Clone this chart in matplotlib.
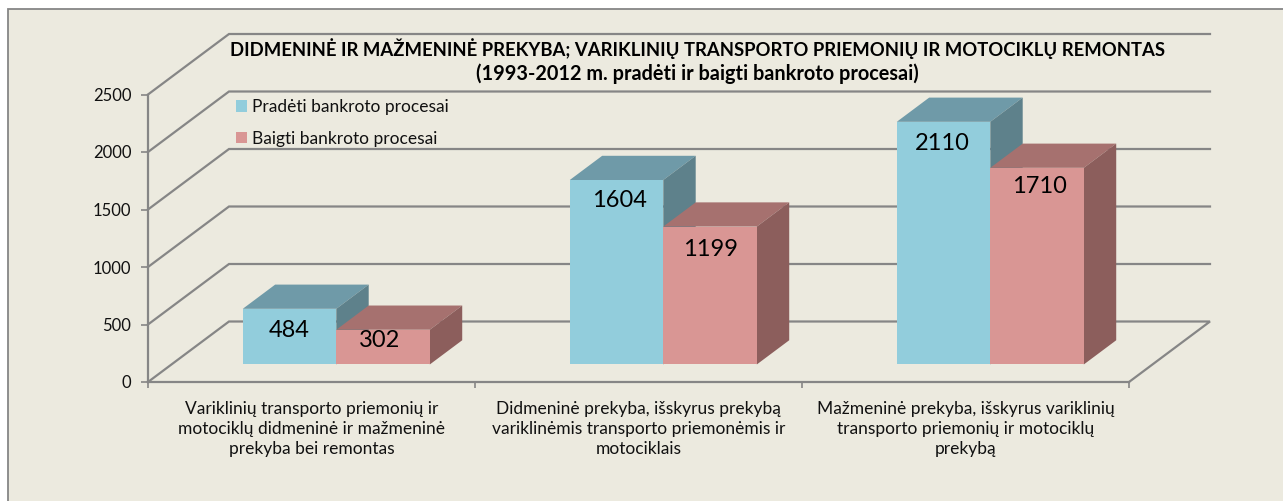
import matplotlib
matplotlib.use('Agg')
import matplotlib.pyplot as plt
from matplotlib.patches import Polygon, Patch, Rectangle

plt.rcParams['font.family'] = ['Lato', 'DejaVu Sans']

# data
categories = ["Variklinių transporto priemonių ir\nmotociklų didmeninė ir mažmeninė\nprekyba bei remontas",
              "Didmeninė prekyba, išskyrus prekybą\nvariklinėmis transporto priemonėmis ir\nmotociklais",
              "Mažmeninė prekyba, išskyrus variklinių\ntransporto priemonių ir motociklų\nprekybą"]
started = [484, 1604, 2110]
finished = [302, 1199, 1710]
yticks = [0, 500, 1000, 1500, 2000, 2500]
title_1 = "DIDMENINĖ IR MAŽMENINĖ PREKYBA; VARIKLINIŲ TRANSPORTO PRIEMONIŲ IR MOTOCIKLŲ REMONTAS"
title_2 = "(1993-2012 m. pradėti ir baigti bankroto procesai)"
series_names = ["Pradėti bankroto procesai", "Baigti bankroto procesai"]

# colours: front, top, side
BG = '#ECEADF'
GRID = '#868686'
BLUE = ('#92CDDC', '#6F9AA8', '#5E818B')
RED = ('#D99694', '#A6716F', '#8C5E5C')

W, H = 1283, 501
fig = plt.figure(figsize=(W / 100, H / 100), dpi=100, facecolor='white')
# the frame runs off the picture on the right and at the bottom
fig.add_artist(Rectangle((8 / W, -10 / H), 1290 / W, (H + 10 - 9) / H, transform=fig.transFigure,
                         facecolor=BG, edgecolor=GRID, linewidth=1.3, zorder=-1))

# plot box in pixels, the depth goes out of it to the upper right
left, right, top, bottom = 148, 1129, 94.5, 382
ax = fig.add_axes([left / W, 1 - bottom / H, (right - left) / W, (bottom - top) / H])
ax.patch.set_alpha(0)
ax.set_xlim(0, 3)
ax.set_ylim(0, 2500)

# oblique projection: depth 0..1 of the floor
DX = 81 / (right - left) * 3
DY = 60.5 / (bottom - top) * 2500


def pr(x, y, d):
    return (x + d * DX, y + d * DY)


def wall_line(pts, z=1):
    ax.plot([p[0] for p in pts], [p[1] for p in pts], color=GRID, lw=1.6, clip_on=False, zorder=z,
            solid_joinstyle='miter')


for v in yticks[1:]:
    wall_line([pr(0, v, 0), pr(0, v, 1), pr(3, v, 1)])
wall_line([pr(0, 0, 0), pr(0, 0, 1), pr(3, 0, 1), pr(3, 0, 0)])


def box(x0, x1, h, colors, z):
    d0, d1 = 0.29, 0.69
    ax.add_patch(Polygon([pr(x0, 0, d0), pr(x1, 0, d0), pr(x1, h, d0), pr(x0, h, d0)],
                         facecolor=colors[0], edgecolor='none', clip_on=False, zorder=z + 0.2))
    ax.add_patch(Polygon([pr(x0, h, d0), pr(x1, h, d0), pr(x1, h, d1), pr(x0, h, d1)],
                         facecolor=colors[1], edgecolor='none', clip_on=False, zorder=z))
    ax.add_patch(Polygon([pr(x1, 0, d0), pr(x1, 0, d1), pr(x1, h, d1), pr(x1, h, d0)],
                         facecolor=colors[2], edgecolor='none', clip_on=False, zorder=z + 0.1))


bar_w = 0.286
# hand placed value labels, like in the original
lab_dx = [[0, -0.012], [0.008, 0.002], [-0.004, 0.008]]
lab_dy = [[-185, -95], [-175, -200], [-190, -160]]
d_front = 0.29
for i in range(3):
    c = i + 0.504
    box(c - bar_w, c, started[i], BLUE, 3)
    box(c, c + bar_w, finished[i], RED, 4)
    xa, ya = pr(c - bar_w / 2 + lab_dx[i][0], started[i] + lab_dy[i][0], d_front)
    ax.text(xa, ya, str(started[i]), ha='center', va='center', fontsize=17, color='black', zorder=6)
    xb, yb = pr(c + bar_w / 2 + lab_dx[i][1], finished[i] + lab_dy[i][1], d_front)
    ax.text(xb, yb, str(finished[i]), ha='center', va='center', fontsize=17, color='black', zorder=6)

# axes
for s in ['top', 'right']:
    ax.spines[s].set_visible(False)
for s in ['left', 'bottom']:
    ax.spines[s].set_color(GRID)
    ax.spines[s].set_linewidth(1.6)
ax.set_yticks(yticks)
ax.set_xticks([0, 1, 2, 3])
ax.set_xticklabels([])
ax.set_xticks([0.5, 1.5, 2.5], labels=categories, minor=True)
ax.tick_params(axis='y', length=5, width=1.2, color=GRID, labelsize=12, labelcolor='#111111', pad=7)
ax.tick_params(axis='x', which='major', length=4, width=1.2, color=GRID)
ax.tick_params(axis='x', which='minor', length=0, labelsize=12.5, labelcolor='#111111', pad=14)
for t in ax.get_xticklabels(minor=True):
    t.set_linespacing(1.28)

fig.text(697 / W, 1 - 49 / H, title_1, ha='center', va='center', fontsize=13.3, fontweight='bold',
         color='black')
fig.text(697 / W, 1 - 74 / H, title_2, ha='center', va='center', fontsize=14.3, fontweight='bold',
         color='black')

handles = [Patch(facecolor=BLUE[0]), Patch(facecolor=RED[0])]
fig.legend(handles, series_names, loc='upper left', bbox_to_anchor=(236 / W, 1 - 99 / H), frameon=False,
           fontsize=12.5, handlelength=0.65, handleheight=0.65, handletextpad=0.28, labelspacing=0.9,
           borderpad=0, borderaxespad=0, labelcolor='#111111')

fig.savefig('out.png', dpi=100, facecolor='white')
